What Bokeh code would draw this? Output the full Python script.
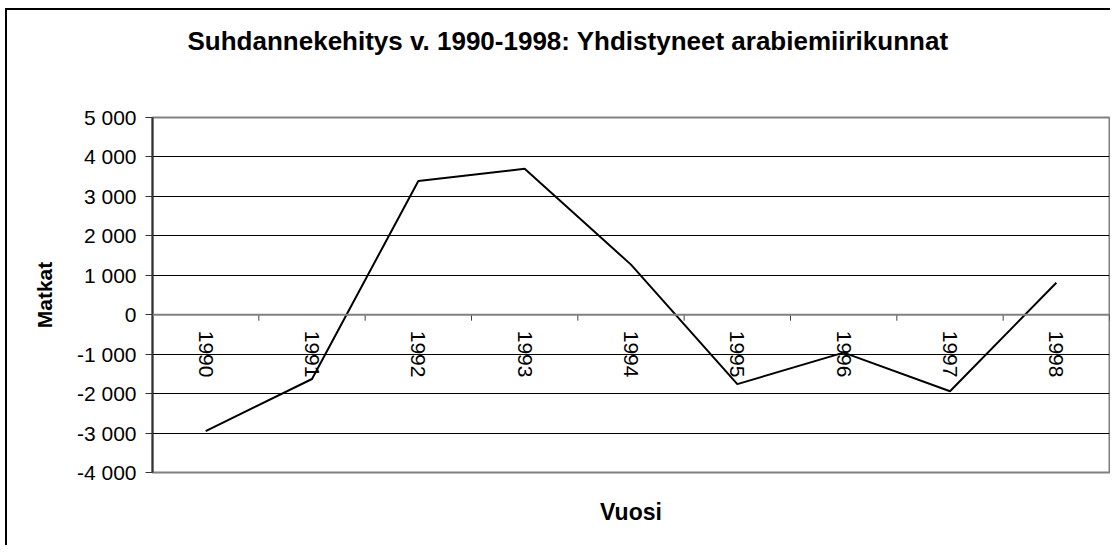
import numpy as np
from bokeh.plotting import figure
from bokeh.models import Range1d, FixedTicker, Span
from bokeh.core.properties import value
from bokeh.embed import file_html
from bokeh.resources import INLINE

# ---- data ----
years = ["1990", "1991", "1992", "1993", "1994", "1995", "1996", "1997", "1998"]
matkat = [-2950, -1630, 3390, 3700, 1270, -1760, -960, -1940, 810]
y_ticks = [-4000, -3000, -2000, -1000, 0, 1000, 2000, 3000, 4000, 5000]
y_tick_labels = ["-4 000", "-3 000", "-2 000", "-1 000", "0",
                 "1 000", "2 000", "3 000", "4 000", "5 000"]
title_text = "Suhdannekehitys v. 1990-1998: Yhdistyneet arabiemiirikunnat"
x_title = "Vuosi"
y_title = "Matkat"

FONT = "Liberation Sans"
W, H = 1110, 545
B_L, B_R, B_T, B_B = 152, 1, 117, 73
frame_h = H - B_T - B_B

p = figure(width=W, height=H, output_backend="svg", toolbar_location=None,
           x_range=Range1d(0, len(years)),
           y_range=Range1d(y_ticks[0], y_ticks[-1]),
           min_border_left=B_L, min_border_right=B_R,
           min_border_top=B_T, min_border_bottom=B_B,
           background_fill_color="white", border_fill_color=None)
# outer chart border (left and top edges visible; the rest lies outside the view)
p.styles = {"background": "linear-gradient(#000,#000) 5px 8px / 2px 100% no-repeat, "
                          "linear-gradient(#000,#000) 5px 8px / 100% 2px no-repeat, #ffffff"}

p.outline_line_color = "#808080"
p.outline_line_width = 2

# title
p.title.text = title_text
p.title.text_font = FONT
p.title.text_font_size = "26px"
p.title.text_font_style = "bold"
p.title.text_color = "black"
p.title.align = "left"
p.title.vertical_align = "bottom"
p.title.offset = 35
p.title.standoff = 10
p.title.padding = dict(left=0, right=0, top=0, bottom=57)

# y axis
yax = p.yaxis[0]
yax.ticker = FixedTicker(ticks=y_ticks)
yax.major_label_overrides = {t: l for t, l in zip(y_ticks, y_tick_labels)}
yax.major_label_text_font = FONT
yax.major_label_text_font_size = "21px"
yax.major_label_text_color = "black"
yax.major_label_standoff = 9
yax.major_tick_out = 7
yax.major_tick_in = 0
yax.minor_tick_out = 0
yax.minor_tick_in = 0
yax.axis_line_color = "#333333"
yax.axis_line_width = 2
yax.major_tick_line_color = "#333333"
yax.axis_label = y_title
yax.axis_label_text_font = FONT
yax.axis_label_text_font_size = "21px"
yax.axis_label_text_font_style = "bold"
yax.axis_label_text_color = "black"
yax.axis_label_standoff = 18

# x axis (only used for its title)
xax = p.xaxis[0]
xax.ticker = FixedTicker(ticks=[])
xax.axis_line_color = None
xax.major_tick_line_color = None
xax.minor_tick_line_color = None
xax.axis_label = x_title
xax.axis_label_text_font = FONT
xax.axis_label_text_font_size = "23px"
xax.axis_label_text_font_style = "bold"
xax.axis_label_text_color = "black"
xax.axis_label_standoff = 26

# grid
p.xgrid.visible = False
p.ygrid.ticker = FixedTicker(ticks=y_ticks)
p.ygrid.grid_line_color = "black"
p.ygrid.grid_line_width = 1

# category axis crossing at zero
p.add_layout(Span(location=0, dimension="width", line_color="#808080", line_width=2))
bounds = np.arange(len(years) + 1)
tick_len = 6 * (y_ticks[-1] - y_ticks[0]) / frame_h
p.segment(x0=bounds, y0=np.zeros(len(bounds)), x1=bounds, y1=-tick_len * np.ones(len(bounds)),
          line_color="#404040", line_width=1)

centers = np.arange(len(years)) + 0.5
p.text(x=centers, y=np.zeros(len(years)), text=years, angle=-np.pi / 2,
       text_align="left", text_baseline="middle", y_offset=16,
       text_font=value(FONT), text_font_size="21px", text_color="black")

# series
p.line(x=centers, y=matkat, line_color="black", line_width=2)

open("out.html", "w").write(file_html(p, INLINE))
